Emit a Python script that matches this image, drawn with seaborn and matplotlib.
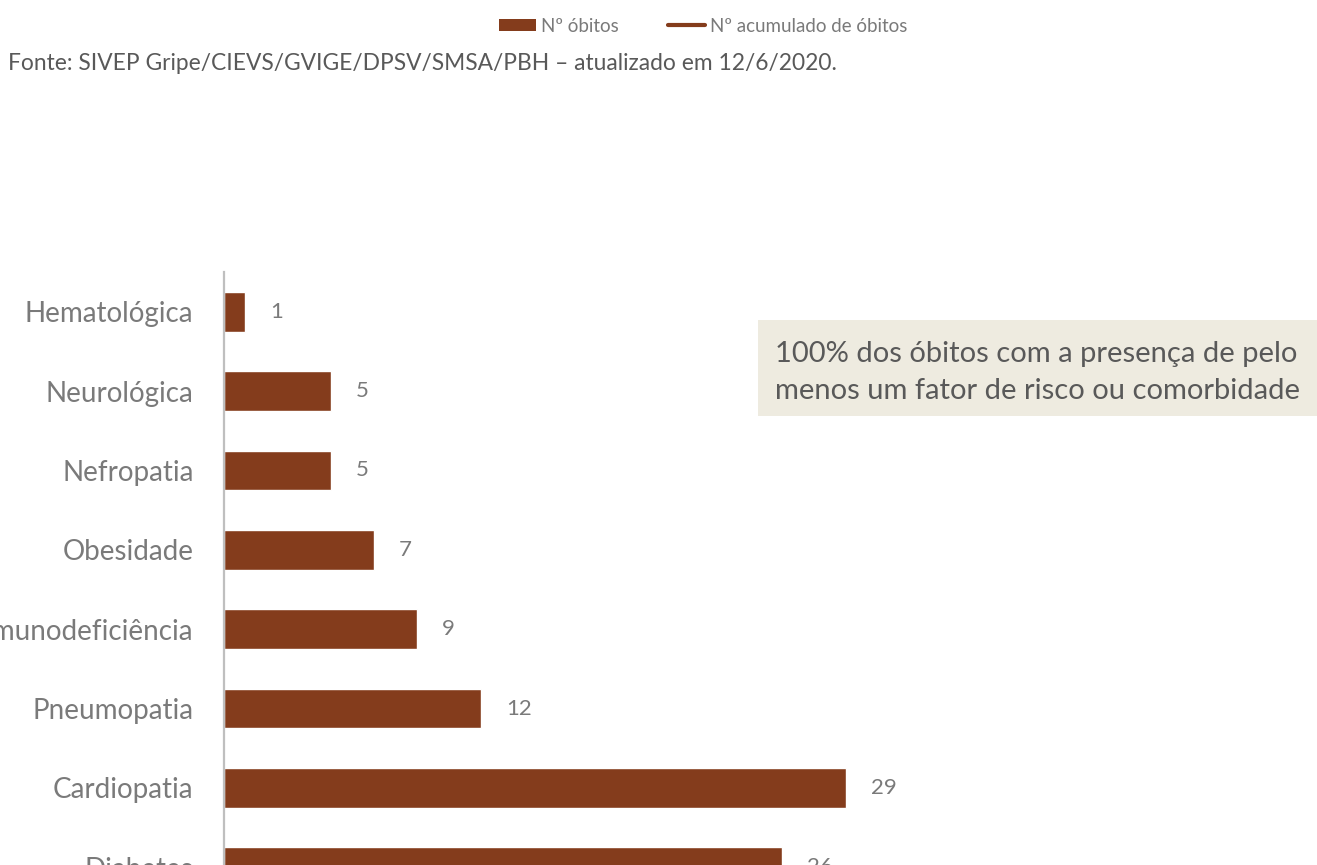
import matplotlib
matplotlib.use("Agg")
import matplotlib.pyplot as plt
from matplotlib.lines import Line2D
from matplotlib.patches import Rectangle, Patch
import seaborn as sns
import pandas as pd

# ---- data ----
categories = ["Hematológica", "Neurológica", "Nefropatia", "Obesidade",
              "Imunodeficiência", "Pneumopatia", "Cardiopatia", "Diabetes"]
obitos = [1, 5, 5, 7, 9, 12, 29, 26]
legend_labels = ["Nº óbitos", "Nº acumulado de óbitos"]
source_text = "Fonte: SIVEP Gripe/CIEVS/GVIGE/DPSV/SMSA/PBH – atualizado em 12/6/2020."
note_lines = ["100% dos óbitos com a presença de pelo",
              "menos um fator de risco ou comorbidade"]

BAR = "#843C1C"
GRAY_T = "#7A7A7A"
DARK_T = "#595959"

sns.set_theme(style="white")
plt.rcParams["font.family"] = ["Lato", "DejaVu Sans"]

W, H = 1317, 865
fig = plt.figure(figsize=(W / 100, H / 100), dpi=100)

ax_left = 224 / W
ax_top = 1 - 272 / H
ax_bottom = 1 - 907 / H
ax = fig.add_axes([ax_left, ax_bottom, 1 - ax_left, ax_top - ax_bottom])

df = pd.DataFrame({"cat": categories, "val": obitos})
sns.barplot(data=df, y="cat", x="val", orient="h", color=BAR, width=0.5,
            saturation=1, ax=ax)
ax.set_xlim(0, (W - 224) / 21.45)
ax.set_ylim(len(categories) - 0.5, -0.5)
ax.set_xlabel("")
ax.set_ylabel("")
ax.set_xticks([])
for s in ["top", "right", "bottom"]:
    ax.spines[s].set_visible(False)
ax.spines["left"].set_color("#BFBFBF")
ax.spines["left"].set_linewidth(1.6)
ax.tick_params(axis="y", length=0, pad=22, labelsize=20, labelcolor=GRAY_T)
ax.bar_label(ax.containers[0], labels=[str(v) for v in obitos], padding=18,
             fontsize=16, color=GRAY_T)

# legend
handles = [Patch(facecolor=BAR, edgecolor="none"),
           Line2D([0], [0], color=BAR, lw=3)]
fig.legend(handles, legend_labels, loc="center", bbox_to_anchor=(703 / W, 1 - 26 / H),
           ncol=2, frameon=False, fontsize=13.5, labelcolor=GRAY_T,
           handlelength=2.0, handleheight=0.55, handletextpad=0.25, columnspacing=2.6)

# source
fig.text(8 / W, 1 - 64 / H, source_text, fontsize=16.4, color=DARK_T,
         ha="left", va="center")

# note box
fig.patches.append(Rectangle((758 / W, 1 - 416 / H), (W - 758) / W, 96 / H,
                             transform=fig.transFigure, facecolor="#EEEBE0",
                             edgecolor="none", zorder=0))
fig.text(775 / W, 1 - 354 / H, note_lines[0], fontsize=21, color=DARK_T,
         ha="left", va="center")
fig.text(775 / W, 1 - 391 / H, note_lines[1], fontsize=21, color=DARK_T,
         ha="left", va="center")

fig.savefig("out.png", dpi=100)
